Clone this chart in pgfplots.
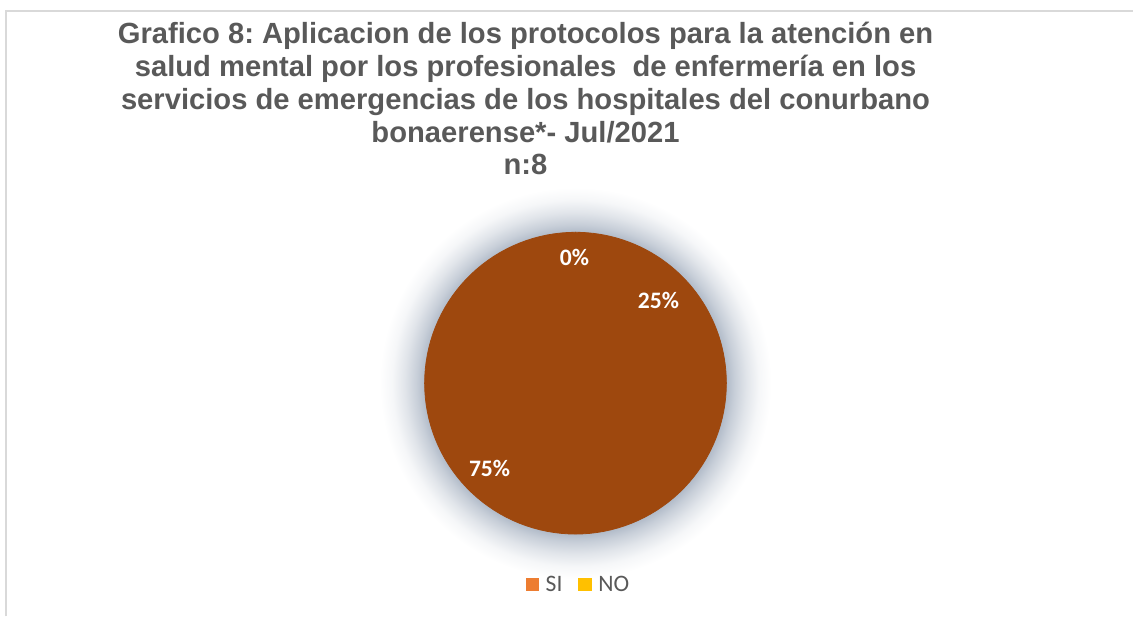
\documentclass[border=0pt]{standalone}
\usepackage{pgfplots}
\pgfplotsset{compat=1.18}
\usepackage{fontspec}
\setmainfont{Liberation Sans}
\newfontfamily\carlito{Carlito}
\frenchspacing
\definecolor{titlegray}{HTML}{595959}
\definecolor{piecol}{HTML}{9E480E}
\definecolor{siorange}{HTML}{ED7D31}
\definecolor{noyellow}{HTML}{FFC000}
\definecolor{framegray}{HTML}{D9D9D9}
\definecolor{glowc}{RGB}{176,186,200}
\pgfdeclareradialshading{pieglow}{\pgfpoint{0bp}{0bp}}{%
  color(0bp)=(glowc); color(19.2bp)=(glowc); color(20.3bp)=(glowc!70!white);
  color(21.8bp)=(glowc!38!white); color(23.4bp)=(glowc!12!white);
  color(25bp)=(white); color(50bp)=(white)}
% counts (n:8): SI = 6 (75%), NO = 2 (25%), third = 0 (0%)
\def\cx{576}\def\cy{233.5}\def\rr{151}
\begin{document}
\begin{tikzpicture}
\begin{axis}[
  hide axis, scale only axis, clip=false,
  width=567pt, height=308.5pt,
  xmin=0, xmax=1134, ymin=0, ymax=617,
  legend style={draw=none, fill=none, at={(axis cs:580,31)}, anchor=center,
    font=\carlito\fontsize{11.8pt}{13pt}\selectfont, text=titlegray,
    /tikz/every even column/.append style={column sep=6pt},
    /tikz/every odd column/.append style={column sep=0pt}},
  legend columns=2,
  legend image code/.code={\fill[#1, draw=none] (0pt,-3.0pt) rectangle (6.6pt,3.6pt); \path (7.8pt,0pt);},
]
\path (axis cs:0,0) rectangle (axis cs:1134,617);
\draw[framegray, line width=1pt] (axis cs:6,0) -- (axis cs:6,606) -- (axis cs:1134,606);
\shade[shading=pieglow] (axis cs:\cx,\cy) circle[radius=98pt];
% NO: 2 of 8 -> 25% (from 90 deg clockwise to 0 deg)
\addplot[fill=piecol, draw=piecol, line width=0.4pt, domain=90:0, samples=40, forget plot]
  ({\cx+\rr*cos(x)},{\cy+\rr*sin(x)}) -- (axis cs:\cx,\cy) -- cycle;
% SI: 6 of 8 -> 75% (from 0 deg clockwise to -270 deg)
\addplot[fill=piecol, draw=piecol, line width=0.4pt, domain=0:-270, samples=100, forget plot]
  ({\cx+\rr*cos(x)},{\cy+\rr*sin(x)}) -- (axis cs:\cx,\cy) -- cycle;
\addlegendimage{fill=siorange}
\addlegendentry{SI}
\addlegendimage{fill=noyellow}
\addlegendentry{NO}
\node[white, font=\carlito\bfseries\fontsize{11.8pt}{13pt}\selectfont] at (axis cs:575,359) {0\%};
\node[white, font=\carlito\bfseries\fontsize{11.8pt}{13pt}\selectfont] at (axis cs:659,316) {25\%};
\node[white, font=\carlito\bfseries\fontsize{11.8pt}{13pt}\selectfont] at (axis cs:490,148) {75\%};
\node[titlegray, font=\bfseries\fontsize{14.6pt}{16.4pt}\selectfont, align=center, anchor=north, inner sep=0pt]
  at (axis cs:526,595) {Grafico 8: Aplicacion de los protocolos para la atención en\\
  salud mental por los profesionales\ \ de enfermería en los\\
  servicios de emergencias de los hospitales del conurbano\\
  bonaerense*- Jul/2021\\
  n:8};
\end{axis}
\end{tikzpicture}
\end{document}
